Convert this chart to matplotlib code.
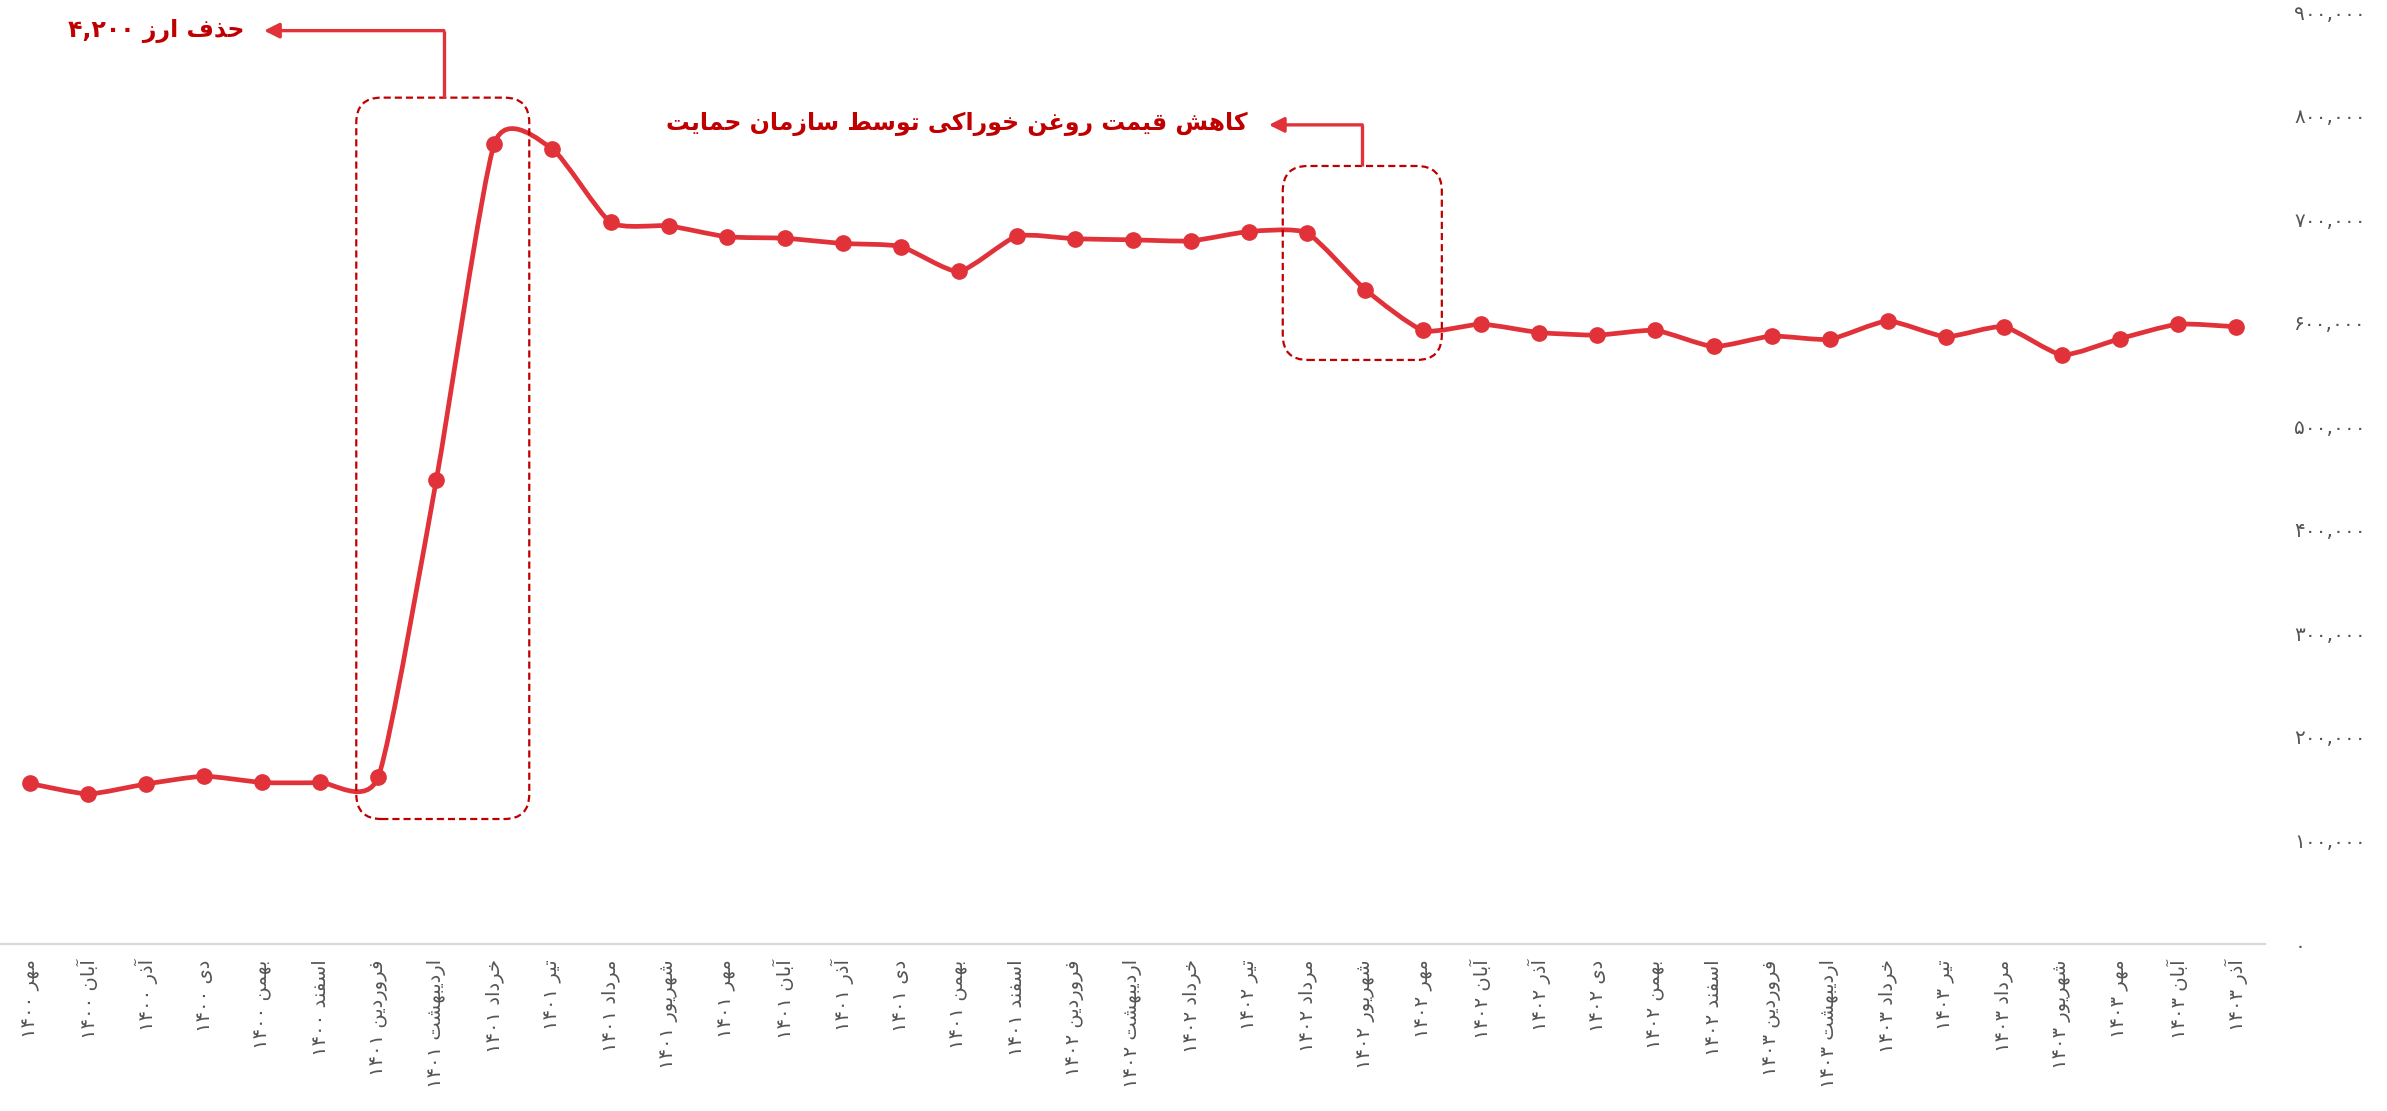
import matplotlib
matplotlib.use("Agg")
import matplotlib.pyplot as plt
import numpy as np
from matplotlib.path import Path
from matplotlib.patches import PathPatch, FancyBboxPatch

# monthly price series (rial), Mehr 1400 .. Azar 1403
months = ["مهر", "آبان", "آذر", "دی", "بهمن", "اسفند",
          "فروردین", "اردیبهشت", "خرداد", "تیر", "مرداد", "شهریور",
          "مهر", "آبان", "آذر", "دی", "بهمن", "اسفند",
          "فروردین", "اردیبهشت", "خرداد", "تیر", "مرداد", "شهریور",
          "مهر", "آبان", "آذر", "دی", "بهمن", "اسفند",
          "فروردین", "اردیبهشت", "خرداد", "تیر", "مرداد", "شهریور",
          "مهر", "آبان", "آذر"]
years = [1400] * 6 + [1401] * 12 + [1402] * 12 + [1403] * 9
prices = [155000, 145000, 154500, 162000, 156000, 156000,
          161500, 448500, 773000, 767500, 697000, 693500,
          683000, 681500, 676500, 673500, 649500, 683500,
          681000, 680000, 679000, 688000, 686500, 632000,
          592500, 598500, 590500, 588000, 592500, 577000,
          587000, 584000, 601500, 586500, 596000, 569000,
          584500, 598500, 596000]
y_ticks = [0, 100000, 200000, 300000, 400000, 500000, 600000, 700000, 800000, 900000]

note_subsidy = "حذف ارز 4,200"
note_support = "کاهش قیمت روغن خوراکی توسط سازمان حمایت"

LINE_RED = "#E1323A"
DARK_RED = "#C00000"
GREY = "#555555"

# --- minimal Persian shaping: contextual forms + visual (LTR) ordering ---
# char: (isolated, final, initial, medial); right-joining letters have no initial/medial
FORMS = {
    "ا": (0xFE8D, 0xFE8E, None, None), "آ": (0xFE81, 0xFE82, None, None),
    "ب": (0xFE8F, 0xFE90, 0xFE91, 0xFE92), "پ": (0xFB56, 0xFB57, 0xFB58, 0xFB59),
    "ت": (0xFE95, 0xFE96, 0xFE97, 0xFE98), "ث": (0xFE99, 0xFE9A, 0xFE9B, 0xFE9C),
    "ج": (0xFE9D, 0xFE9E, 0xFE9F, 0xFEA0), "چ": (0xFB7A, 0xFB7B, 0xFB7C, 0xFB7D),
    "ح": (0xFEA1, 0xFEA2, 0xFEA3, 0xFEA4), "خ": (0xFEA5, 0xFEA6, 0xFEA7, 0xFEA8),
    "د": (0xFEA9, 0xFEAA, None, None), "ذ": (0xFEAB, 0xFEAC, None, None),
    "ر": (0xFEAD, 0xFEAE, None, None), "ز": (0xFEAF, 0xFEB0, None, None),
    "ژ": (0xFB8A, 0xFB8B, None, None),
    "س": (0xFEB1, 0xFEB2, 0xFEB3, 0xFEB4), "ش": (0xFEB5, 0xFEB6, 0xFEB7, 0xFEB8),
    "ص": (0xFEB9, 0xFEBA, 0xFEBB, 0xFEBC), "ض": (0xFEBD, 0xFEBE, 0xFEBF, 0xFEC0),
    "ط": (0xFEC1, 0xFEC2, 0xFEC3, 0xFEC4), "ظ": (0xFEC5, 0xFEC6, 0xFEC7, 0xFEC8),
    "ع": (0xFEC9, 0xFECA, 0xFECB, 0xFECC), "غ": (0xFECD, 0xFECE, 0xFECF, 0xFED0),
    "ف": (0xFED1, 0xFED2, 0xFED3, 0xFED4), "ق": (0xFED5, 0xFED6, 0xFED7, 0xFED8),
    "ک": (0xFB8E, 0xFB8F, 0xFB90, 0xFB91), "گ": (0xFB92, 0xFB93, 0xFB94, 0xFB95),
    "ل": (0xFEDD, 0xFEDE, 0xFEDF, 0xFEE0), "م": (0xFEE1, 0xFEE2, 0xFEE3, 0xFEE4),
    "ن": (0xFEE5, 0xFEE6, 0xFEE7, 0xFEE8), "و": (0xFEED, 0xFEEE, None, None),
    "ه": (0xFEE9, 0xFEEA, 0xFEEB, 0xFEEC), "ی": (0xFBFC, 0xFBFD, 0xFBFE, 0xFBFF),
}
FA_DIGITS = str.maketrans("0123456789", "۰۱۲۳۴۵۶۷۸۹")


def shape_word(word):
    out = []
    for i, ch in enumerate(word):
        f = FORMS.get(ch)
        if f is None:
            out.append(ch)
            continue
        prev = word[i - 1] if i > 0 else None
        nxt = word[i + 1] if i + 1 < len(word) else None
        join_prev = prev in FORMS and FORMS[prev][2] is not None
        join_next = nxt in FORMS and f[2] is not None
        if join_prev and join_next:
            code = f[3]
        elif join_prev:
            code = f[1]
        elif join_next:
            code = f[2]
        else:
            code = f[0]
        out.append(chr(code))
    return "".join(out)


def fa(text):
    words = text.translate(FA_DIGITS).split(" ")
    vis = []
    for w in reversed(words):
        if any(c in FORMS for c in w):
            vis.append(shape_word(w)[::-1])
        else:
            vis.append(w)
    return " ".join(vis)


plt.rcParams["font.family"] = ["DejaVu Sans"]

W, H = 2387, 1111
fig = plt.figure(figsize=(W / 100, H / 100), dpi=100)
fig.patch.set_facecolor("white")
ax = fig.add_axes([1 / W, 167 / H, 2264 / W, 932 / H])

x = np.arange(len(prices))
y = np.array(prices, dtype=float)

# smoothed line: cubic Bezier segments through every point
k = 0.1
verts = [(x[0], y[0])]
codes = [Path.MOVETO]
n = len(x)
for i in range(n - 1):
    i0 = max(i - 1, 0)
    i3 = min(i + 2, n - 1)
    c1 = (x[i] + k * (x[i + 1] - x[i0]), y[i] + k * (y[i + 1] - y[i0]))
    c2 = (x[i + 1] - k * (x[i3] - x[i]), y[i + 1] - k * (y[i3] - y[i]))
    verts += [c1, c2, (x[i + 1], y[i + 1])]
    codes += [Path.CURVE4] * 3
ax.add_patch(PathPatch(Path(verts, codes), fill=False, edgecolor=LINE_RED,
                       lw=3.4, capstyle="round", joinstyle="round", zorder=3))
ax.plot(x, y, "o", color=LINE_RED, markersize=11, zorder=4)

ax.set_xlim(-0.5, n - 0.5)
ax.set_ylim(0, 900000)

# axes styling
for side in ["top", "left", "right"]:
    ax.spines[side].set_visible(False)
ax.spines["bottom"].set_color("#D9D9D9")
ax.spines["bottom"].set_linewidth(1.6)

ax.set_xticks(x)
ax.set_xticklabels([fa(f"{m} {yr}") for m, yr in zip(months, years)],
                   rotation=90, va="top", ha="center", fontsize=14, color=GREY)
ax.tick_params(axis="x", length=0, pad=11)

ax.yaxis.tick_right()
ax.set_yticks(y_ticks)
ax.set_yticklabels([f"{v:,}".translate(FA_DIGITS) for v in y_ticks],
                   fontsize=14.5, color=GREY)
ax.tick_params(axis="y", length=0, pad=21)

# rounded dashed boxes need the pixel aspect of the data units
fig.canvas.draw()
bb = ax.get_window_extent()
px_x = bb.width / (n)
px_y = bb.height / 900000
aspect = px_x / px_y


def dashed_box(x0, x1, y0, y1):
    r = 25 / px_x
    ax.add_patch(FancyBboxPatch((x0, y0), x1 - x0, y1 - y0,
                                boxstyle=f"round,pad=0,rounding_size={r}",
                                mutation_aspect=aspect, fill=False,
                                edgecolor=DARK_RED, lw=1.6,
                                linestyle=(0, (3.2, 1.8)), zorder=5))


def elbow_arrow(cx, y_top, y_arrow, x_tip):
    ax.plot([cx, cx], [y_top, y_arrow], color=LINE_RED, lw=2.4,
            solid_capstyle="butt", zorder=5)
    ax.annotate("", xy=(x_tip, y_arrow), xytext=(cx, y_arrow),
                arrowprops=dict(arrowstyle="-|>,head_length=0.9,head_width=0.45",
                                color=LINE_RED, lw=2.4, shrinkA=0, shrinkB=0),
                zorder=5)


dashed_box(5.62, 8.6, 120700, 817300)
dashed_box(21.58, 24.32, 564000, 751300)
elbow_arrow(7.13, 817300, 882000, 4.03)
elbow_arrow(22.95, 751300, 791000, 21.34)

ax.text(3.7, 882000, fa(note_subsidy), ha="right", va="center",
        fontsize=17, fontweight="bold", color=DARK_RED)
ax.text(20.97, 792000, fa(note_support), ha="right", va="center",
        fontsize=17, fontweight="bold", color=DARK_RED)

fig.savefig("out.png", dpi=100, facecolor="white")
